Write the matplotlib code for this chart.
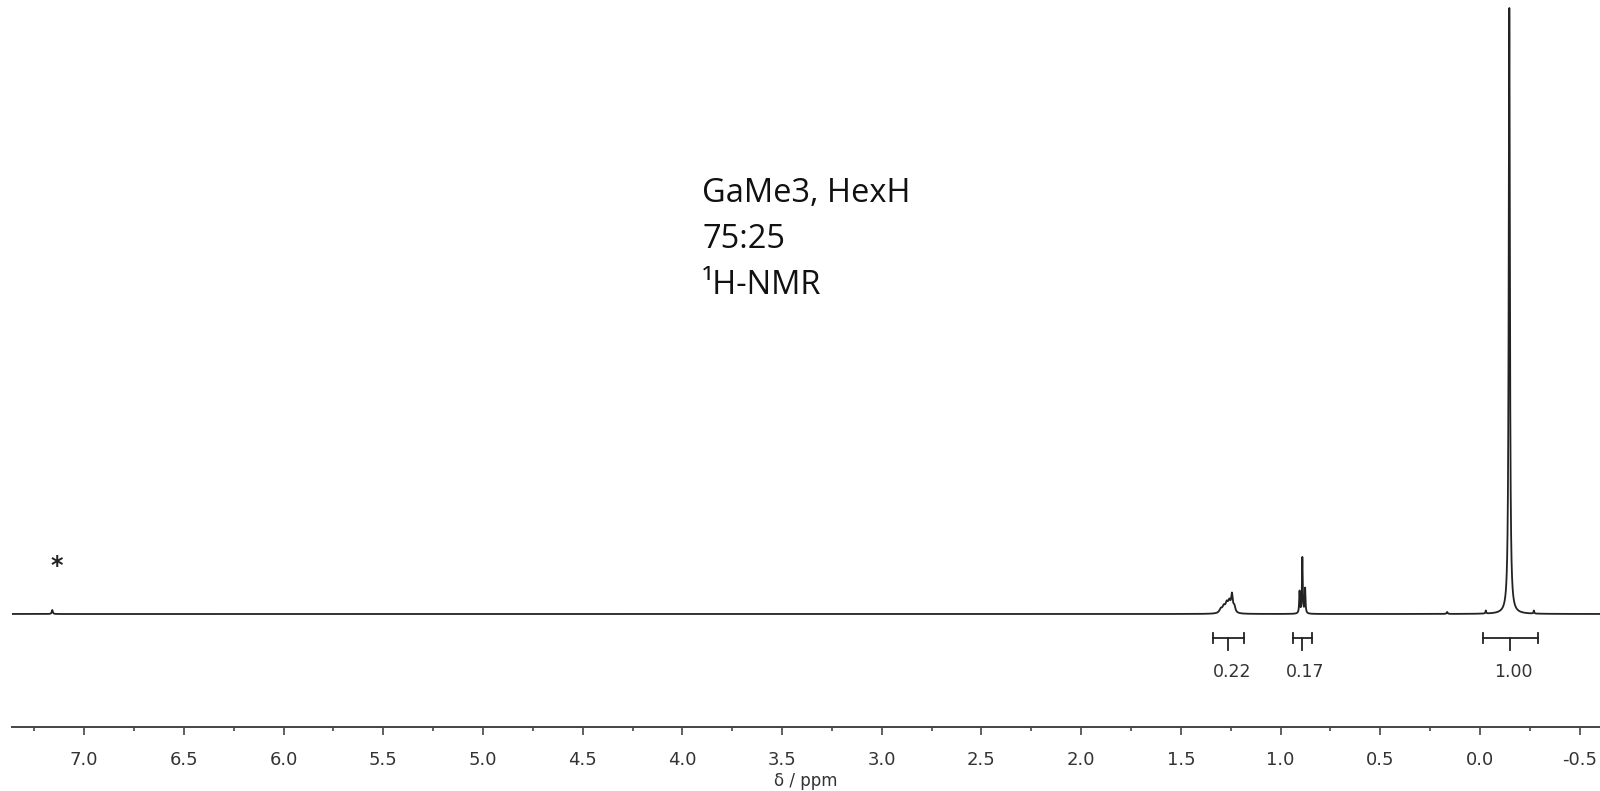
import numpy as np
import matplotlib
matplotlib.use("Agg")
import matplotlib.pyplot as plt

# Peak list (chemical shift in ppm, height in arbitrary units, half-width in ppm)
shifts = [7.160, 1.300, 1.285, 1.270, 1.257, 1.244, 1.232,
          0.905, 0.891, 0.877, 0.165, -0.029, -0.147, -0.270]
heights = [4, 4, 6, 9, 10, 17, 6,
           22, 56, 25, 2, 3, 606, 3]
widths = [0.003, 0.008, 0.008, 0.008, 0.007, 0.005, 0.006,
          0.0022, 0.0022, 0.0022, 0.003, 0.002, 0.0035, 0.002]

# Integration regions (start, end, label)
int_starts = [1.339, 0.940, -0.014]
int_ends = [1.184, 0.842, -0.290]
int_labels = ["0.22", "0.17", "1.00"]

tick_values = [7.0, 6.5, 6.0, 5.5, 5.0, 4.5, 4.0, 3.5, 3.0, 2.5, 2.0, 1.5, 1.0, 0.5, 0.0, -0.5]
x_label = "δ / ppm"
title_lines = ["GaMe3, HexH", "75:25", "¹H-NMR"]

ppm = np.linspace(7.45, -0.65, 40000)
spec = np.zeros_like(ppm)
for s, h, w in zip(shifts, heights, widths):
    spec += h * w**2 / ((ppm - s) ** 2 + w**2)

fig = plt.figure(figsize=(16, 7.91), dpi=100)
ax = fig.add_axes([12 / 1600, 64 / 791, 1 - 12 / 1600, 727 / 791])
ax.set_xlim(7.3620, -0.6018)
ax.set_ylim(-113, 614)

line_col = "#222222"
ax.plot(ppm, spec, color=line_col, lw=1.3)

for sp in ["top", "left", "right"]:
    ax.spines[sp].set_visible(False)
ax.spines["bottom"].set_color("#444444")
ax.spines["bottom"].set_linewidth(1.4)
ax.set_yticks([])
ax.set_xticks(tick_values)
ax.set_xticklabels([f"{v:.1f}" for v in tick_values])
ax.set_xticks(np.arange(7.25, -0.6, -0.5), minor=True)
ax.tick_params(axis="x", which="major", direction="out", length=6, width=1.2,
               color="#444444", labelsize=13, labelcolor="#333333", pad=11)
ax.tick_params(axis="x", which="minor", direction="out", length=3, width=1.2,
               color="#444444")
ax.set_xlabel(x_label, fontsize=12, color="#333333")
ax.xaxis.set_label_coords(0.5, -0.062)

# Integration brackets
for a, b, lab in zip(int_starts, int_ends, int_labels):
    y0 = -24
    c = (a + b) / 2
    ax.plot([a, b], [y0, y0], color=line_col, lw=1.3, clip_on=False)
    ax.plot([a, a], [y0 - 5, y0 + 5], color=line_col, lw=1.3, clip_on=False)
    ax.plot([b, b], [y0 - 5, y0 + 5], color=line_col, lw=1.3, clip_on=False)
    ax.plot([c, c], [y0, y0 - 12], color=line_col, lw=1.3, clip_on=False)
    ax.text(c - 0.016, -58, lab, ha="center", va="center", fontsize=12.5,
            color="#333333")

# Solvent marker
ax.text(7.140, 48, "*", ha="center", va="center", fontsize=17,
        fontweight="bold", color="#222222")

# Sample description
for i, t in enumerate(title_lines):
    fig.text(702 / 1600, 1 - (193 + 46 * i) / 791, t, ha="left", va="center",
             fontsize=23.5, family=["Open Sans", "DejaVu Sans"], color="#111111")

fig.savefig("out.png", dpi=100)
